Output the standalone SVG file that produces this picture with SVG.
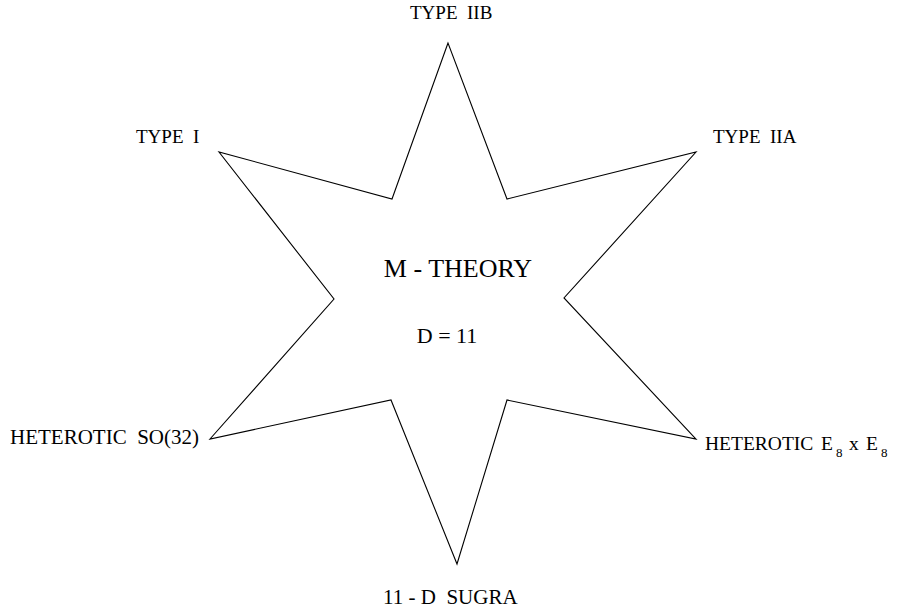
<svg xmlns="http://www.w3.org/2000/svg" width="912" height="611" viewBox="0 0 912 611">
<style>
text{font-family:"Liberation Serif","Times New Roman",serif;fill:#000;white-space:pre}
.lbl{font-size:19px}
.big{font-size:21px}
.sub{font-size:13px}
.star{fill:none;stroke:#000;stroke-width:1.1}
</style>
<rect width="912" height="611" fill="#fff"/>
<g id="connectors">
<polygon id="star" class="star" points="448,43 392,199 219,152 334,299 210,439 391,400 457,564 507,400 696,439 564,298 696,152 507,199"/>
</g>
<g id="center">
<text x="458" y="277" font-size="26" text-anchor="middle">M - THEORY</text>
<text x="447" y="343" font-size="22" text-anchor="middle">D = 11</text>
</g>
<g id="typeIIB"><text class="lbl" x="410" y="19" xml:space="preserve">TYPE  IIB</text></g>
<g id="typeI"><text class="lbl" x="136" y="143" xml:space="preserve">TYPE  I</text></g>
<g id="typeIIA"><text class="lbl" x="713" y="143" xml:space="preserve">TYPE  IIA</text></g>
<g id="hetSO32"><text class="big" x="10" y="444" xml:space="preserve">HETEROTIC  SO(32)</text></g>
<g id="hetE8"><text font-size="19.5" x="705" y="450">HETEROTIC<tspan x="821">E</tspan><tspan class="sub" x="836" dy="7">8</tspan><tspan x="849" dy="-7">x</tspan><tspan x="866">E</tspan><tspan class="sub" x="881" dy="7">8</tspan></text></g>
<g id="sugra"><text class="big" x="383" y="604" xml:space="preserve">11 - D  SUGRA</text></g>
</svg>
